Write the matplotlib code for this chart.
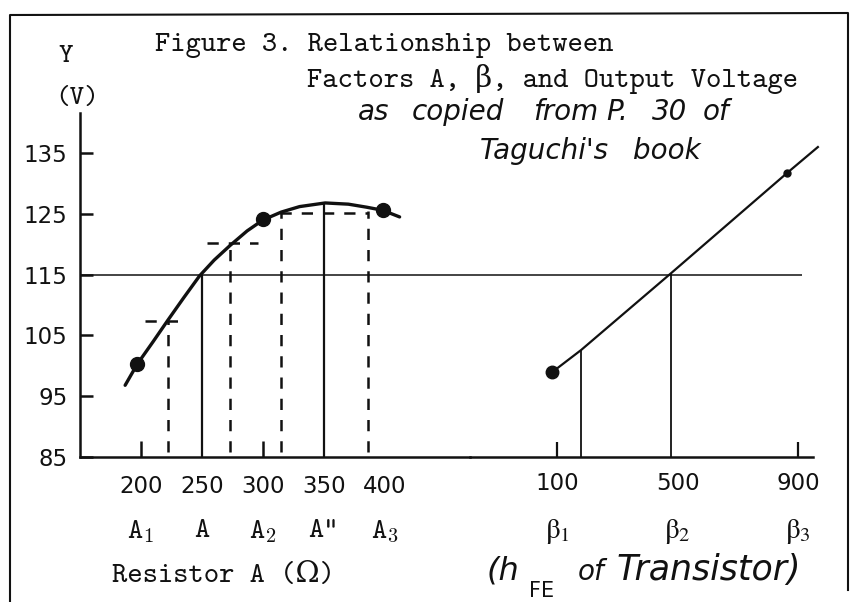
import matplotlib.pyplot as plt

# --- data ---
# output voltage vs resistor A (ohm)
res_curve = [187, 197, 210, 222, 235, 248, 260, 273, 287, 300, 315, 330, 351, 370, 385, 398, 412]
volt_curve = [96.8, 100.3, 104.0, 107.5, 111.2, 114.8, 117.4, 119.8, 122.2, 124.0, 125.3, 126.2, 126.8, 126.6, 126.1, 125.6, 124.5]
res_points = [197, 300, 398]
volt_points = [100.3, 124.1, 125.6]
res_ticks = [200, 250, 300, 350, 400]
res_names = [r'$\mathtt{A}_\mathtt{1}$', 'A', r'$\mathtt{A}_\mathtt{2}$', 'A"', r'$\mathtt{A}_\mathtt{3}$']
res_small_ticks = [200, 300]

# construction lines on the resistor curve
dash_x = [222, 273, 315, 386]
dash_top = [107.5, 120.2, 125.1, 125.5]
dash_h_y = [107.4, 120.2, 125.2]
dash_h_x0 = [203, 254, 314]
dash_h_x1 = [237, 296, 386]
solid_x = [250, 350]
solid_top = [115, 126.8]

# output voltage vs hFE (beta)
beta_line = [85, 180, 480, 863, 966]
volt_beta = [99.0, 102.6, 115.3, 131.7, 136.0]
beta_ticks = [100, 500, 900]
beta_names = [r'$\mathrm{\beta}_\mathrm{1}$', r'$\mathrm{\beta}_\mathrm{2}$', r'$\mathrm{\beta}_\mathrm{3}$']
beta_vert = [180, 480]
beta_vert_top = [102.6, 115.3]

y_ticks = [85, 95, 105, 115, 125, 135]
target = 115

# handwritten notes, word by word (spacing of the handwriting)
note1_words = ['as', 'copied', 'from', 'P.', '30', 'of']
note1_x = [358, 412, 533, 606, 652, 703]
note2_words = ["Taguchi's", 'book']
note2_x = [480, 633]
note3_words = ['of', 'Transistor)']
note3_x = [578, 617]
note3_size = [20, 25]

W, H = 854, 602
INK = '#111111'
TT = ['cmtt10', 'DejaVu Serif']

fig = plt.figure(figsize=(W / 100, H / 100), dpi=100)

# pixel overlay for frame and free text
bg = fig.add_axes([0, 0, 1, 1])
bg.set_xlim(0, W)
bg.set_ylim(H, 0)
bg.axis('off')

bottom = (H - 457) / H
height = 344 / H
ax1 = fig.add_axes([80 / W, bottom, 390 / W, height])
ax2 = fig.add_axes([470 / W, bottom, 360 / W, height])
for ax in (ax1, ax2):
    ax.patch.set_visible(False)
    ax.set_ylim(85, 141.6)
    for s in ('top', 'right'):
        ax.spines[s].set_visible(False)
    ax.spines['bottom'].set_linewidth(1.8)
    ax.spines['bottom'].set_color(INK)

ax1.set_xlim(150, 469.7)
ax2.set_xlim(-188.8, 1006.2)
ax2.spines['left'].set_visible(False)
ax2.spines['bottom'].set_bounds(-188.8, 951)
ax2.set_yticks([])
ax1.spines['left'].set_linewidth(1.8)
ax1.spines['left'].set_color(INK)

ax1.set_yticks(y_ticks)
ax1.tick_params(axis='y', direction='in', length=9, width=1.8, pad=9,
                labelsize=16.5, colors=INK)
ax1.set_xticks(res_ticks)
ax1.tick_params(axis='x', length=0, pad=13, labelsize=16.5, colors=INK)
ax2.set_xticks(beta_ticks)
ax2.tick_params(axis='x', length=0, pad=11, labelsize=16.5, colors=INK)

# resistor side
ax1.hlines(target, 150, 469.7, color=INK, lw=1.1, clip_on=False)
ax1.plot(res_curve, volt_curve, color=INK, lw=2.4, solid_capstyle='round')
ax1.plot(res_points, volt_points, 'o', color=INK, ms=10)
ax1.vlines(solid_x, 85, solid_top, color=INK, lw=1.6)
ax1.vlines(dash_x, 85.8, dash_top, color=INK, lw=1.8, linestyles=(0, (4.5, 4)))
ax1.hlines(dash_h_y, dash_h_x0, dash_h_x1, color=INK, lw=1.8, linestyles=(0, (4.5, 4)))
ax1.vlines(res_small_ticks, 85, 87.7, color=INK, lw=1.8)
for x, name in zip(res_ticks, res_names):
    ax1.text(x, -0.218, name, transform=ax1.get_xaxis_transform(), ha='center', va='center',
             fontsize=21, family=TT, math_fontfamily='cm', color=INK)

# beta side
ax2.hlines(target, -188.8, 913, color=INK, lw=1.1, clip_on=False)
ax2.plot(beta_line, volt_beta, color=INK, lw=1.6, clip_on=False)
ax2.plot(beta_line[0], volt_beta[0], 'o', color=INK, ms=9)
ax2.plot(beta_line[3], volt_beta[3], 'o', color=INK, ms=5)
ax2.vlines(beta_vert, 85, beta_vert_top, color=INK, lw=1.3)
ax2.vlines(beta_ticks[::2], 85, 87.5, color=INK, lw=1.6)
for x, name in zip(beta_ticks, beta_names):
    ax2.text(x, -0.218, name, transform=ax2.get_xaxis_transform(), ha='center', va='center',
             fontsize=21, math_fontfamily='stix', color=INK)

# frame
bg.plot([10, 10, 848, 848], [602, 15, 13, 590], color=INK, lw=1.5)

# typed text
bg.text(66, 57, 'Y', fontsize=20, family=TT, ha='center', va='center', color=INK)
bg.text(77, 98, '(V)', fontsize=20, family=TT, ha='center', va='center', color=INK)
bg.text(155, 46, 'Figure 3. Relationship between', fontsize=21, family=TT,
        ha='left', va='center', color=INK)
bg.text(307, 79, 'Factors A, β, and Output Voltage', fontsize=21, family=TT,
        ha='left', va='center', color=INK)
bg.text(112, 576, 'Resistor A (Ω)', fontsize=21, family=TT,
        ha='left', va='center', color=INK)

# handwritten notes
hand = dict(family='DejaVu Sans', fontstyle='italic', color=INK)
for x, w in zip(note1_x, note1_words):
    bg.text(x, 120, w, fontsize=20, ha='left', va='baseline', **hand)
for x, w in zip(note2_x, note2_words):
    bg.text(x, 159, w, fontsize=20, ha='left', va='baseline', **hand)
bg.text(487, 580, '(h', fontsize=23, ha='left', va='baseline', **hand)
bg.text(529, 597, 'FE', fontsize=15, ha='left', va='baseline', family='DejaVu Sans', color=INK)
for x, w, s in zip(note3_x, note3_words, note3_size):
    bg.text(x, 580, w, fontsize=s, ha='left', va='baseline', **hand)

fig.savefig('out.png', dpi=100)
